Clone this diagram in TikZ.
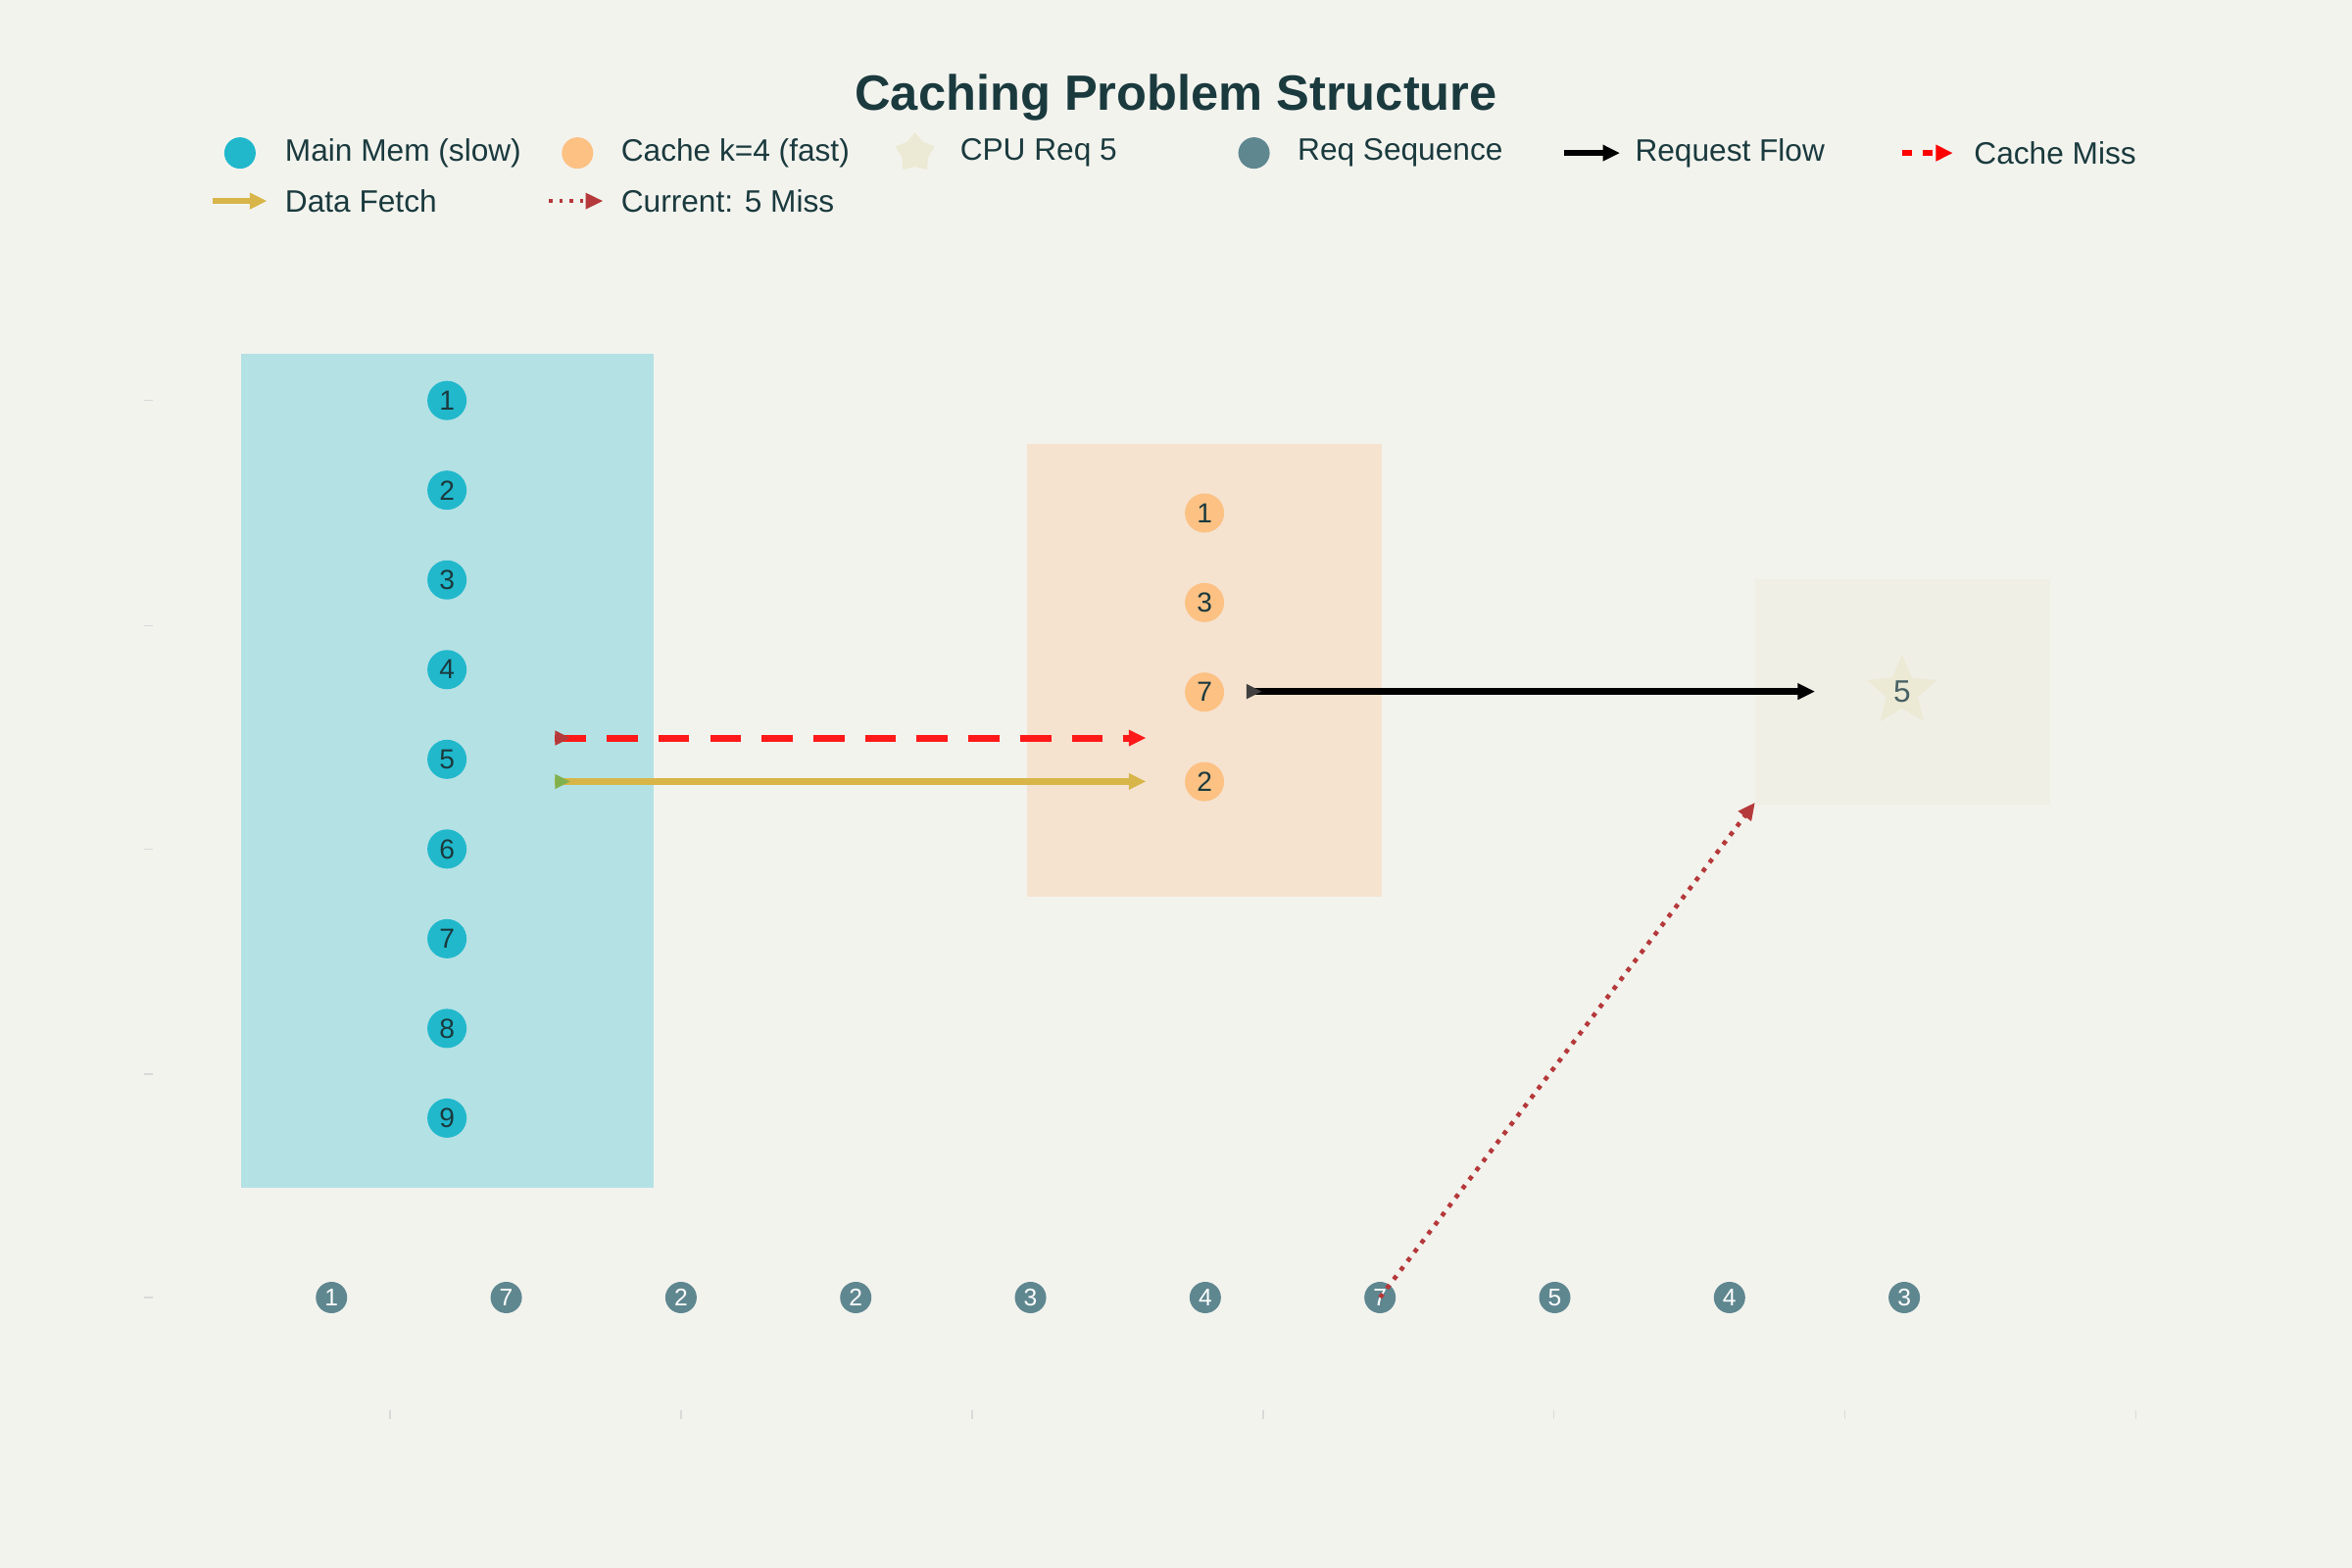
\documentclass[tikz,border=0pt]{standalone}
\usepackage{fontspec}
\setmainfont{Liberation Sans}
\usetikzlibrary{arrows.meta,shapes.geometric,positioning}
\definecolor{bg}{HTML}{F3F3EE}
\definecolor{ink}{HTML}{1A3A3E}
\definecolor{memfill}{HTML}{B4E1E4}
\definecolor{memdot}{HTML}{21B8CC}
\definecolor{cachefill}{HTML}{F5E3D0}
\definecolor{cachedot}{HTML}{FCC183}
\definecolor{cpufill}{HTML}{F0EFE6}
\definecolor{stardot}{HTML}{ECE9D4}
\definecolor{reqdot}{HTML}{5F8790}
\definecolor{fetch}{HTML}{D8B548}
\definecolor{curmiss}{HTML}{B5393A}
\begin{document}
\begin{tikzpicture}[x=0.015306cm, y=-0.015306cm, >={Triangle[length=5pt,width=4.5pt]}]
  \tikzset{memnode/.style={circle, fill=memdot, inner sep=0pt, minimum size=0.4cm, font=\footnotesize, text=ink},
    cachenode/.style={memnode, fill=cachedot},
    reqnode/.style={circle, fill=reqdot, minimum size=0.32cm, inner sep=0pt, font=\scriptsize, text=white},
    legtext/.style={anchor=west, font=\small, text=ink},
    tick/.style={draw=gray!30, line width=0.4pt}}
  \fill[bg] (0,0) rectangle (1568,1045);
  \useasboundingbox (0,0) rectangle (1568,1045);

  \node[font=\bfseries\Large, text=ink] (title) at (784,65) {Caching Problem Structure};

  % legend
  \node[circle, fill=memdot, minimum size=0.32cm, inner sep=0pt] (l1) at (160,102) {};
  \node[legtext] at (182,102) {Main Mem (slow)};
  \node[circle, fill=cachedot, minimum size=0.32cm, inner sep=0pt] (l2) at (385,102) {};
  \node[legtext] at (406,102) {Cache k=4 (fast)};
  \node[star, star points=5, fill=stardot, minimum size=0.42cm, inner sep=0pt] (l3) at (610,102) {};
  \node[legtext] at (632,102) {CPU Req 5};
  \node[circle, fill=reqdot, minimum size=0.32cm, inner sep=0pt] (l4) at (836,102) {};
  \node[legtext] at (857,102) {Req Sequence};
  \draw[->, line width=1.5pt] (1043,102) -- (1080,102);
  \node[legtext] at (1082,102) {Request Flow};
  \draw[->, red, line width=1.5pt, dashed] (1268,102) -- (1302,102);
  \node[legtext] at (1308,102) {Cache Miss};
  \draw[->, fetch, line width=1.5pt] (142,134) -- (178,134);
  \node[legtext] at (182,134) {Data Fetch};
  \draw[->, curmiss, line width=1pt, dotted] (366,134) -- (402,134);
  \node[legtext] at (406,134) {Current: 5 Miss};

  % axis ticks
  \foreach \y in {267,417,566,716,865} \draw[tick] (96,\y) -- (102,\y);
  \foreach \x in {260,454,648,842,1036,1230,1424} \draw[tick] (\x,940) -- (\x,946);

  % main memory
  \fill[memfill] (161,236) rectangle (436,792);
  \foreach \i in {1,...,9}
    \node[memnode] (m\i) at (298,{267+59.8*(\i-1)}) {\i};

  % cache
  \fill[cachefill] (685,296) rectangle (921,598);
  \foreach \v [count=\i] in {1,3,7,2}
    \node[cachenode] (c\i) at (803,{342+59.7*(\i-1)}) {\v};

  % cpu
  \fill[cpufill] (1170,386) rectangle (1367,537);
  \node[star, star points=5, star point ratio=2.2, fill=stardot, minimum size=0.75cm, inner sep=0pt] (cpu) at (1268,461) {};
  \node[font=\small, text=ink!80] (cpulbl) at (cpu) {5};
  \coordinate (cpuin) at (1210,461);
  \coordinate (cpucorner) at (1170,535);

  % request sequence
  \foreach \v [count=\i] in {1,7,2,2,3,4,7,5,4,3}
    \node[reqnode] (r\i) at ({221+116.5*(\i-1)},865) {\v};

  % flows
  \coordinate (missfrom) at (370,492);
  \coordinate (missto) at (764,492);
  \coordinate (fetchfrom) at (370,521);
  \coordinate (fetchto) at (764,521);
  \coordinate (reqfrom) at (835,461);
  \draw[->, red!90, line width=2pt, dash pattern=on 9pt off 6pt] (missfrom) -- (missto);
  \fill[curmiss] (missfrom) ++(0,-5) -- ++(10,5) -- ++(-10,5) -- cycle;
  \draw[->, fetch, line width=2pt] (fetchfrom) -- (fetchto);
  \fill[fetch!60!green!60!gray] (fetchfrom) ++(0,-5) -- ++(10,5) -- ++(-10,5) -- cycle;
  \draw[->, black, line width=2pt] (reqfrom) -- (cpuin);
  \fill[black!75] (reqfrom) ++(-4,-5) -- ++(10,5) -- ++(-10,5) -- cycle;
  \draw[->, curmiss, line width=1.3pt, dotted] (r7.center) -- (cpucorner);
\end{tikzpicture}
\end{document}
